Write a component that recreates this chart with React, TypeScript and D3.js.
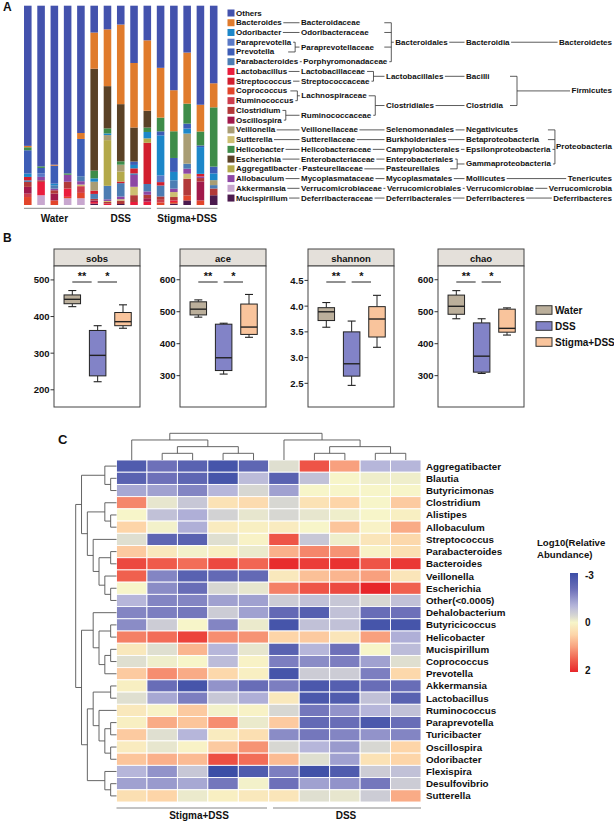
import React, { useEffect, useRef } from "react";
import * as d3 from "d3";

const W = 614;
const H = 821;
const FONT = "'Liberation Sans', Arial, Helvetica, sans-serif";

// ---------------- Panel A data ----------------
const barGroups = ["Water", "DSS", "Stigma+DSS"];
const barSamples = ["W1", "W2", "W3", "W4", "W5", "D1", "D2", "D3", "D4", "D5", "S1", "S2", "S3", "S4", "S5"];
const legendTaxa = [
  "Others", "Bacteroides", "Odoribacter", "Paraprevotella", "Prevotella", "Parabacteroides",
  "Lactobacillus", "Streptococcus", "Coprococcus", "Ruminococcus", "Clostridium", "Oscillospira",
  "Veillonella", "Sutterella", "Helicobacter", "Escherichia", "Aggregatibacter", "Allobaculum",
  "Akkermansia", "Mucispirillum",
];
const taxonColors = [
  "#4352ad", "#e07b2c", "#1c87c9", "#5a79c6", "#3d5db6", "#4c7db3",
  "#ea1d3c", "#d21f2e", "#e2452b", "#cd3e4d", "#b23939", "#a1194b",
  "#a99d74", "#cdbf72", "#3e8c49", "#5a4126", "#b3a94a", "#8d47a4",
  "#c8a7cf", "#4b1a4e",
];
// stacking order, top of bar to bottom
const stackOrderTopDown = [
  "Others", "Bacteroides", "Escherichia", "Helicobacter", "Prevotella", "Odoribacter",
  "Paraprevotella", "Veillonella", "Aggregatibacter", "Streptococcus", "Parabacteroides",
  "Allobaculum", "Sutterella", "Clostridium", "Oscillospira", "Ruminococcus",
  "Lactobacillus", "Coprococcus", "Akkermansia", "Mucispirillum",
];
// relative abundance (%) per sample W1..W5, D1..D5, S1..S5
const Others = [70.4, 80.6, 79.7, 84.3, 64.2, 13.6, 11.7, 9.4, 28.6, 17.3, 31.2, 42.4, 23.5, 49.6, 39.0];
const Bacteroides = [0.7, 0, 0.5, 0, 3.0, 18.3, 28.1, 39.7, 32.2, 35.2, 25.0, 20.6, 25.6, 13.4, 12.1];
const Escherichia = [0, 0, 0, 0, 0, 51.6, 20.9, 28.5, 17.0, 8.4, 0, 0, 0, 0, 0];
const Helicobacter = [1.5, 0.8, 0, 0.7, 0, 3.9, 2.5, 1.7, 0, 2.2, 6.9, 13.4, 10.0, 7.0, 29.8];
const Prevotella = [11.7, 2.8, 9.0, 0, 18.8, 0, 0, 0, 1.7, 0, 2.0, 7.0, 2.5, 0.8, 3.4];
const Odoribacter = [1.7, 0, 0.8, 0, 0, 1.7, 0.8, 0, 1.7, 3.2, 20.1, 4.2, 2.5, 13.4, 3.4];
const Paraprevotella = [0, 1.7, 0, 0, 0, 0, 0, 0, 0, 0, 3.4, 0, 0, 0, 0];
const Veillonella = [0, 0, 0, 0, 0, 4.5, 2.5, 3.4, 0, 0, 0, 0, 15.1, 0, 2.5];
const Aggregatibacter = [0, 0, 0, 0, 0, 0, 22.6, 5.0, 0, 2.2, 0, 0, 0, 0, 0];
const Streptococcus = [1.7, 0, 0, 0, 0, 1.7, 0, 0.8, 2.5, 20.6, 1.7, 0, 0, 1.3, 0];
const Parabacteroides = [0.8, 0, 1.7, 0, 2.5, 2.5, 6.7, 6.7, 0.8, 3.7, 5.5, 4.2, 2.5, 0, 1.7];
const Allobaculum = [0, 1.7, 0.8, 3.5, 1.7, 0, 0.8, 1.3, 5.9, 1.7, 0, 1.7, 2.5, 0.8, 0];
const Sutterella = [0, 0, 0, 0, 0.8, 0, 0.5, 0.7, 4.2, 0, 0, 2.5, 2.5, 0, 0];
const Clostridium = [2.5, 0.8, 1.7, 3.4, 0, 0.8, 0.8, 1.7, 3.4, 1.7, 1.7, 1.7, 8.4, 1.7, 3.4];
const Oscillospira = [3.4, 0, 3.4, 0, 0, 0.8, 0, 0, 0, 1.7, 0, 0, 0, 9.5, 0];
const Ruminococcus = [1.7, 0, 0, 0, 3.4, 0, 0, 0, 0, 0, 1.3, 0, 0, 0, 0];
const Lactobacillus = [0, 6.7, 0, 4.2, 0, 0.8, 0.7, 0, 1.5, 1.7, 0, 0.8, 0, 0, 0];
const Coprococcus = [4.0, 0, 2.3, 0.7, 2.7, 0, 0, 0, 0, 0, 1.3, 0.8, 2.5, 2.3, 0];
const Akkermansia = [0, 4.9, 0, 3.4, 3.4, 0, 0, 0, 0, 0, 0, 0, 0, 0, 0];
const Mucispirillum = [0, 0, 0, 0, 0, 0.7, 0, 0.5, 0, 0, 0, 0.7, 2.3, 0, 4.9];
const taxonSeries: Record<string, number[]> = {
  Others, Bacteroides, Escherichia, Helicobacter, Prevotella, Odoribacter, Paraprevotella,
  Veillonella, Aggregatibacter, Streptococcus, Parabacteroides, Allobaculum, Sutterella,
  Clostridium, Oscillospira, Ruminococcus, Lactobacillus, Coprococcus, Akkermansia, Mucispirillum,
};

// taxonomy
const familyNames = ["Bacteroidaceae", "Odoribacteraceae", "Paraprevotellaceae", "Porphyromonadaceae",
  "Lactobacillaceae", "Streptococcaceae", "Lachnospiraceae", "Ruminococcaceae", "Veillonellaceae",
  "Sutterellaceae", "Helicobacteraceae", "Enterobacteriaceae", "Pasteurellaceae", "Mycoplasmataceae",
  "Verrucomicrobiaceae", "Deferribacteraceae"];
const familyGenera = [[1], [2], [3, 4], [5], [6], [7], [8, 9], [10, 11], [12], [13], [14], [15], [16], [17], [18], [19]];
const orderNames = ["Bacteroidales", "Lactobacillales", "Clostridiales", "Selenomonadales", "Burkholderiales",
  "Campylobacterales", "Enterobacteriales", "Pasteurellales", "Mycoplasmatales", "Verrucomicrobiales",
  "Deferribacterales"];
const orderFamilies = [[0, 1, 2, 3], [4, 5], [6, 7], [8], [9], [10], [11], [12], [13], [14], [15]];
const classNames = ["Bacteroidia", "Bacilli", "Clostridia", "Negativicutes", "Betaproteobacteria",
  "Epsilonproteobacteria", "Gammaproteobacteria", "Mollicutes", "Verrucomicrobiae", "Deferribacteres"];
const classOrders = [[0], [1], [2], [3], [4], [5], [6, 7], [8], [9], [10]];
const phylumNames = ["Bacteroidetes", "Firmicutes", "Proteobacteria", "Tenericutes", "Verrucomicrobia", "Deferribacteres"];
const phylumClasses = [[0], [1, 2], [3, 4, 5, 6], [7], [8], [9]];

// ---------------- Panel B data ----------------
const alphaMetrics = ["sobs", "ace", "shannon", "chao"];
const boxGroups = ["Water", "DSS", "Stigma+DSS"];
const boxColors = ["#bbaf9b", "#8283c7", "#f9c49c"];
// [min, q1, median, q3, max] per group
const sobsStats = [[427, 435, 447, 459, 471], [222, 238, 294, 362, 375], [368, 375, 386, 411, 432]];
const aceStats = [[483, 490, 508, 531, 537], [305, 316, 356, 461, 464], [420, 429, 452, 524, 554]];
const shannonStats = [[3.59, 3.72, 3.89, 3.97, 4.07], [2.46, 2.64, 2.88, 3.5, 3.71], [3.2, 3.4, 3.75, 3.99, 4.21]];
const chaoStats = [[478, 492, 517, 552, 566], [307, 311, 361, 465, 478], [427, 436, 448, 508, 512]];
const metricStats = [sobsStats, aceStats, shannonStats, chaoStats];
const metricDomains = [[153, 538], [202, 643], [2.04, 4.78], [202, 643]];
const metricTicks = [[200, 300, 400, 500], [300, 400, 500, 600], [2.5, 3.0, 3.5, 4.0, 4.5], [300, 400, 500, 600]];
const significance = ["**", "*"];

// ---------------- Panel C data ----------------
const heatGenera = ["Aggregatibacter", "Blautia", "Butyricimonas", "Clostridium", "Alistipes", "Allobaculum",
  "Streptococcus", "Parabacteroides", "Bacteroides", "Veillonella", "Escherichia", "Other(<0.0005)",
  "Dehalobacterium", "Butyricicoccus", "Helicobacter", "Mucispirillum", "Coprococcus", "Prevotella",
  "Akkermansia", "Lactobacillus", "Ruminococcus", "Paraprevotella", "Turicibacter", "Oscillospira",
  "Odoribacter", "Flexispira", "Desulfovibrio", "Sutterella"];
const heatColumns = ["S1", "S2", "S3", "S4", "S5", "D1", "D2", "D3", "D4", "D5"];
const heatValues = [
  [-2.6, -2.0, -2.4, -2.8, -2.3, -0.3, 1.6, 1.0, -1.0, -1.0],
  [-2.4, -2.0, -2.3, -2.8, -0.9, -2.4, -0.8, 0.0, -0.1, -0.1],
  [-1.2, -1.3, -1.7, -1.0, -0.4, -1.3, 0.0, 0.0, 0.0, 0.0],
  [1.2, -0.2, -0.7, 0.3, 0.4, -0.4, 0.3, 0.5, 0.0, 0.6],
  [0.0, -0.8, -1.1, -0.5, -0.2, -0.4, -0.2, -0.1, 0.0, 0.1],
  [0.5, -0.05, -1.1, 0.15, 0.1, 0.15, 0.0, 0.65, 0.05, 0.9],
  [-0.3, -2.3, -2.4, -0.3, 0.05, 1.6, -0.7, -0.1, 0.25, 0.45],
  [0.6, 0.2, -0.05, 0.1, -0.15, 0.85, 1.2, 1.1, 0.05, 0.35],
  [1.7, 1.55, 1.4, 1.7, 1.45, 1.95, 1.8, 1.9, 1.6, 1.85],
  [1.5, -1.7, -2.4, -2.2, -2.2, 0.2, 0.7, 0.8, 1.0, 0.25],
  [0.0, -1.6, -2.1, -0.4, -0.2, 1.25, 1.6, 1.7, 2.0, 1.5],
  [-1.0, -1.7, -1.7, -1.3, -1.3, -0.6, -0.8, -0.7, -0.4, -0.8],
  [-1.7, -1.8, -1.9, -0.6, -1.3, -2.2, -2.5, -0.8, -2.1, -2.0],
  [-1.6, -0.6, 0.0, -1.7, -0.15, -2.8, -0.8, -0.8, -2.8, -2.8],
  [1.25, 1.4, 1.75, 1.15, 1.1, 0.5, 0.6, 0.25, 1.0, -1.1],
  [0.2, -0.3, 0.8, -1.0, -0.2, -2.4, -1.0, -2.0, 0.0, -0.9],
  [-0.3, -0.1, 0.0, -0.9, 0.05, -1.8, -1.6, -1.8, -1.3, -0.3],
  [0.6, 1.15, 0.9, 0.45, 0.1, -2.8, -0.6, -0.6, -1.8, 0.45],
  [0.1, -2.1, -2.8, -1.5, -2.1, -1.8, -2.7, -2.5, -2.1, -2.1],
  [-0.3, -1.2, -1.8, -0.7, -1.1, 0.2, -2.7, -2.6, -0.8, -2.4],
  [0.2, 0.05, 0.6, -0.05, 0.05, -0.4, -1.9, -1.5, -1.0, -0.8],
  [0.1, 0.9, 0.65, 1.15, -0.15, 0.6, -2.2, -2.1, -2.7, -2.1],
  [0.6, -0.3, -1.0, 0.15, 0.35, -1.6, -1.9, -1.7, -1.5, -1.7],
  [0.15, -0.2, 0.05, 0.6, 1.1, -0.4, -1.0, -1.4, -0.4, 0.5],
  [0.65, 0.85, 0.75, 1.65, 1.4, 0.75, -0.3, -1.3, 0.3, 0.5],
  [-1.0, -1.5, -0.7, -3.0, -2.6, -1.8, -2.9, -2.6, -0.6, -0.8],
  [-1.3, -1.4, -1.2, -1.9, -0.05, -2.0, -1.3, -1.5, -1.9, -0.6],
  [0.35, 0.5, -0.15, 0.1, 0.2, 0.25, -0.3, -0.2, -0.6, 0.9],
];
const heatColorDomain = [-3, -2, -1, -0.4, 0, 0.5, 1, 1.5, 2];
const heatColorRange = ["#3c4ea6", "#6d70b9", "#b6b6da", "#d7d7d2", "#f7f5c9", "#fdd5a8", "#f8a07e", "#f0604e", "#e7262a"];
const heatLegendTicks = [-3, 0, 2];
const heatGroupLabels = ["Stigma+DSS", "DSS"];
type Tree = number | Tree[];
const columnTree: Tree = [[0, [[1, 2], [3, 4]]], [5, [[6, 7], [8, 9]]]];
const rowTree: Tree = [
  [
    [0, [1, 2]],
    [[3, [4, 5]], [6, [[7, 8], [9, [10, 11]]]]],
  ],
  [
    [12, [[13, 14], [[15, 16], 17]]],
    [[[18, 19], [20, [[21, 22], [23, 24]]]], [25, [26, 27]]],
  ],
];

type Sel = d3.Selection<any, any, any, any>;

function seg(g: Sel, x1: number, y1: number, x2: number, y2: number, color = "#333", w = 0.8) {
  g.append("line").attr("x1", x1).attr("y1", y1).attr("x2", x2).attr("y2", y2)
    .attr("stroke", color).attr("stroke-width", w);
}

function drawA(svg: Sel) {
  const g = svg.append("g");
  g.append("text").attr("x", 3).attr("y", 11).attr("font-size", 12).attr("font-weight", "bold").text("A");

  const rows = barSamples.map((s, i) => {
    const r: any = { sample: s };
    for (const t of stackOrderTopDown) r[t] = taxonSeries[t][i];
    return r;
  });
  const keys = stackOrderTopDown.slice().reverse();
  const series = d3.stack<any>().keys(keys).offset(d3.stackOffsetExpand)(rows);
  const x = d3.scaleBand<string>().domain(barSamples).range([18.3, 223.2]).paddingInner(0.43).paddingOuter(0.43);
  const y = d3.scaleLinear().domain([0, 1]).range([205, 5.7]);
  const color = d3.scaleOrdinal<string, string>().domain(legendTaxa).range(taxonColors);

  g.selectAll("g.ser").data(series).join("g").attr("fill", (d) => color(d.key))
    .selectAll("rect").data((d) => d).join("rect")
    .attr("x", (d) => x(d.data.sample)!)
    .attr("y", (d) => y(d[1]))
    .attr("width", x.bandwidth())
    .attr("height", (d) => Math.max(0, y(d[0]) - y(d[1])));

  // group lines
  barGroups.forEach((grp, gi) => {
    const first = barSamples[gi * 5];
    const last = barSamples[gi * 5 + 4];
    const x0 = x(first)!;
    const x1 = x(last)! + x.bandwidth();
    seg(g, x0, 208.3, x1, 208.3, "#888", 1);
    g.append("text").attr("x", (x0 + x1) / 2).attr("y", 218.5).attr("text-anchor", "middle")
      .attr("dominant-baseline", "central").attr("font-size", 10).attr("font-weight", "bold").text(grp);
  });

  // legend + taxonomy
  const rowY = (i: number) => 13 + 9.74 * i;
  const fs = 8;
  const lg = g.append("g").attr("font-size", fs).attr("font-weight", "bold");
  const genusInfo: { y: number; end: number }[] = [];
  legendTaxa.forEach((t, i) => {
    lg.append("rect").attr("x", 227.5).attr("y", rowY(i) - 3.5).attr("width", 7).attr("height", 7).attr("fill", color(t));
    const tx = lg.append("text").attr("x", 236).attr("y", rowY(i)).attr("dominant-baseline", "central").text(t);
    const w = (tx.node() as SVGTextElement).getComputedTextLength();
    genusInfo.push({ y: rowY(i), end: 236 + w });
  });

  function level(
    names: string[], kidsIdx: number[][], kids: { y: number; end: number }[],
    baseX: number, minBracket: number, rightAlign: boolean,
  ) {
    const out: { y: number; end: number }[] = [];
    names.forEach((nm, pi) => {
      const ks = kidsIdx[pi].map((k) => kids[k]);
      const maxEnd = d3.max(ks, (k) => k.end)!;
      let py: number;
      let bx = 0;
      if (ks.length > 1) {
        bx = Math.max(minBracket, maxEnd + 4);
        py = (ks[0].y + ks[ks.length - 1].y) / 2;
      } else {
        py = ks[0].y;
      }
      let tx: number;
      if (ks.length > 1) tx = Math.max(baseX, bx + 4);
      else tx = Math.max(baseX, maxEnd + 5);
      const t = lg.append("text").attr("y", py).attr("dominant-baseline", "central").text(nm);
      const w = (t.node() as SVGTextElement).getComputedTextLength();
      let start: number;
      if (rightAlign) {
        t.attr("x", 612).attr("text-anchor", "end");
        start = 612 - w;
      } else {
        t.attr("x", tx);
        start = tx;
      }
      if (ks.length > 1) {
        for (const k of ks) seg(lg, Math.max(k.end + 2, bx - 7), k.y, bx, k.y);
        seg(lg, bx, ks[0].y, bx, ks[ks.length - 1].y);
        seg(lg, bx, py, start - 1.5, py);
      } else {
        const k = ks[0];
        seg(lg, k.end + 1.5, k.y, start - 1.5, k.y);
      }
      out.push({ y: py, end: start + w });
    });
    return out;
  }
  const fam = level(familyNames, familyGenera, genusInfo, 301, 0, false);
  const ord = level(orderNames, orderFamilies, fam, 386, 0, false);
  const cls = level(classNames, classOrders, ord, 466, 0, false);
  level(phylumNames, phylumClasses, cls, 0, 517, true);
}

function drawB(svg: Sel) {
  const g = svg.append("g");
  g.append("text").attr("x", 3).attr("y", 242).attr("font-size", 12).attr("font-weight", "bold").text("B");
  const panelX = [54, 180, 308, 438];
  const pw = 86;
  const top = 249, headB = 266, bottom = 407;
  alphaMetrics.forEach((m, mi) => {
    const x0 = panelX[mi];
    const pg = g.append("g");
    pg.append("rect").attr("x", x0).attr("y", top).attr("width", pw).attr("height", headB - top)
      .attr("fill", "#e4e0da").attr("stroke", "#444").attr("stroke-width", 1);
    pg.append("text").attr("x", x0 + pw / 2).attr("y", (top + headB) / 2 + 0.5).attr("text-anchor", "middle")
      .attr("dominant-baseline", "central").attr("font-size", 9.5).attr("font-weight", "bold").text(m);
    pg.append("rect").attr("x", x0).attr("y", headB).attr("width", pw).attr("height", bottom - headB)
      .attr("fill", "#fff").attr("stroke", "#444").attr("stroke-width", 1);
    const y = d3.scaleLinear().domain(metricDomains[mi]).range([bottom, headB]);
    const fmt = mi === 2 ? d3.format(".1f") : d3.format("d");
    metricTicks[mi].forEach((t) => {
      seg(pg, x0 - 3.5, y(t), x0, y(t), "#333", 1);
      pg.append("text").attr("x", x0 - 4.5).attr("y", y(t)).attr("text-anchor", "end")
        .attr("dominant-baseline", "central").attr("font-size", 9.5).attr("font-weight", "bold").text(fmt(t));
    });
    const xs = d3.scalePoint<string>().domain(boxGroups).range([x0 + 18.3, x0 + 69]);
    const bw = 16.5;
    metricStats[mi].forEach((st, gi) => {
      const cx = xs(boxGroups[gi])!;
      const [mn, q1, md, q3, mx] = st;
      seg(pg, cx, y(mx), cx, y(q3), "#222", 1);
      seg(pg, cx, y(q1), cx, y(mn), "#222", 1);
      seg(pg, cx - 4, y(mx), cx + 4, y(mx), "#222", 1.1);
      seg(pg, cx - 4, y(mn), cx + 4, y(mn), "#222", 1.1);
      pg.append("rect").attr("x", cx - bw / 2).attr("y", y(q3)).attr("width", bw).attr("height", y(q1) - y(q3))
        .attr("fill", boxColors[gi]).attr("stroke", "#222").attr("stroke-width", 1);
      seg(pg, cx - bw / 2, y(md), cx + bw / 2, y(md), "#222", 1.4);
    });
    // significance
    significance.forEach((s, si) => {
      const a = xs(boxGroups[si])!;
      const b = xs(boxGroups[si + 1])! - 6;
      seg(pg, a, 282, b, 282, "#222", 1);
      pg.append("text").attr("x", (a + b) / 2).attr("y", 280).attr("text-anchor", "middle")
        .attr("font-size", 11).attr("font-weight", "bold").text(s);
    });
  });
  // legend
  const ly = [310, 326, 342];
  boxGroups.forEach((grp, gi) => {
    g.append("rect").attr("x", 536).attr("y", ly[gi] - 4.3).attr("width", 16).attr("height", 8.6)
      .attr("fill", boxColors[gi]).attr("stroke", "#333").attr("stroke-width", 1);
    g.append("text").attr("x", 555).attr("y", ly[gi]).attr("dominant-baseline", "central")
      .attr("font-size", 10).attr("font-weight", "bold").text(grp);
  });
}

function dendro(g: Sel, tree: Tree, leafPos: (i: number) => number, hPos: (h: number) => number, vertical: boolean) {
  const root = d3.hierarchy<Tree>(tree, (d) => (Array.isArray(d) ? d : undefined));
  const pos = new Map<any, number>();
  root.eachAfter((n) => {
    if (!n.children) pos.set(n, leafPos(n.data as number));
    else pos.set(n, (pos.get(n.children[0])! + pos.get(n.children[n.children.length - 1])!) / 2);
  });
  const L = (a: number, b: number, c: number, d: number) => {
    // a,c along leaf axis; b,d along height axis
    if (vertical) seg(g, a, b, c, d, "#555", 0.9);
    else seg(g, b, a, d, c, "#555", 0.9);
  };
  root.each((n) => {
    if (!n.children) return;
    const hp = hPos(n.height);
    const ps = n.children.map((c) => pos.get(c)!);
    L(ps[0], hp, ps[ps.length - 1], hp);
    n.children.forEach((c) => {
      L(pos.get(c)!, hp, pos.get(c)!, hPos(c.height));
    });
  });
}

function drawC(svg: Sel) {
  const g = svg.append("g");
  g.append("text").attr("x", 58).attr("y", 444).attr("font-size", 13).attr("font-weight", "bold").text("C");
  const x = d3.scaleBand<string>().domain(heatColumns).range([116.5, 421]);
  const y = d3.scaleBand<string>().domain(heatGenera).range([460, 802]);
  const color = d3.scaleLinear<string>().domain(heatColorDomain).range(heatColorRange).clamp(true);
  heatValues.forEach((row, ri) => {
    row.forEach((v, ci) => {
      g.append("rect").attr("x", x(heatColumns[ci])!).attr("y", y(heatGenera[ri])!)
        .attr("width", x.bandwidth()).attr("height", y.bandwidth())
        .attr("fill", color(v)).attr("stroke", "#fff").attr("stroke-width", 0.9);
    });
  });
  heatGenera.forEach((gn) => {
    g.append("text").attr("x", 426).attr("y", y(gn)! + y.bandwidth() / 2).attr("dominant-baseline", "central")
      .attr("font-size", 9.8).attr("font-weight", "bold").text(gn);
  });
  // dendrograms
  const colH = d3.scaleLinear().domain([0, 4]).range([460, 433.3]);
  dendro(g, columnTree, (i) => x(heatColumns[i])! + x.bandwidth() / 2, (h) => colH(h), true);
  const rowH = d3.scaleLinear().domain([0, 7]).range([116.5, 75.7]);
  dendro(g, rowTree, (i) => y(heatGenera[i])! + y.bandwidth() / 2, (h) => rowH(h), false);
  // group lines
  seg(g, 116.5, 808, 267, 808, "#888", 1);
  seg(g, 273, 808, 421, 808, "#888", 1);
  g.append("text").attr("x", 199).attr("y", 815.5).attr("text-anchor", "middle").attr("dominant-baseline", "central")
    .attr("font-size", 10).attr("font-weight", "bold").text(heatGroupLabels[0]);
  g.append("text").attr("x", 346).attr("y", 815.5).attr("text-anchor", "middle").attr("dominant-baseline", "central")
    .attr("font-size", 10).attr("font-weight", "bold").text(heatGroupLabels[1]);
  // color legend
  g.append("text").attr("x", 537).attr("y", 542).attr("dominant-baseline", "central")
    .attr("font-size", 9.6).attr("font-weight", "bold").text("Log10(Relative");
  g.append("text").attr("x", 537).attr("y", 554).attr("dominant-baseline", "central")
    .attr("font-size", 9.6).attr("font-weight", "bold").text("Abundance)");
  const barY = d3.scaleLinear().domain([-3, 0, 2]).range([573, 622.5, 672]);
  const defs = svg.append("defs");
  const grad = defs.append("linearGradient").attr("id", "heatgrad").attr("x1", 0).attr("y1", 0).attr("x2", 0).attr("y2", 1);
  d3.range(0, 41).forEach((k) => {
    const t = k / 40;
    const v = barY.invert(573 + t * (672 - 573));
    grad.append("stop").attr("offset", t).attr("stop-color", color(v));
  });
  g.append("rect").attr("x", 570).attr("y", 573).attr("width", 8).attr("height", 672 - 573).attr("fill", "url(#heatgrad)");
  heatLegendTicks.forEach((t) => {
    g.append("text").attr("x", 585).attr("y", barY(t) + (t === -3 ? 2 : t === 2 ? -2 : 0)).attr("dominant-baseline", "central")
      .attr("font-size", 10).attr("font-weight", "bold").text(String(t));
  });
}

export default function App() {
  const ref = useRef<SVGSVGElement>(null);
  useEffect(() => {
    const svg = d3.select(ref.current!);
    svg.selectAll("*").remove();
    svg.append("rect").attr("width", W).attr("height", H).attr("fill", "#fff");
    drawA(svg as any);
    drawB(svg as any);
    drawC(svg as any);
  }, []);
  return (
    <svg
      ref={ref}
      width={W}
      height={H}
      style={{ position: "absolute", left: 0, top: 0, display: "block" }}
      fontFamily={FONT}
      fill="#111"
    />
  );
}
